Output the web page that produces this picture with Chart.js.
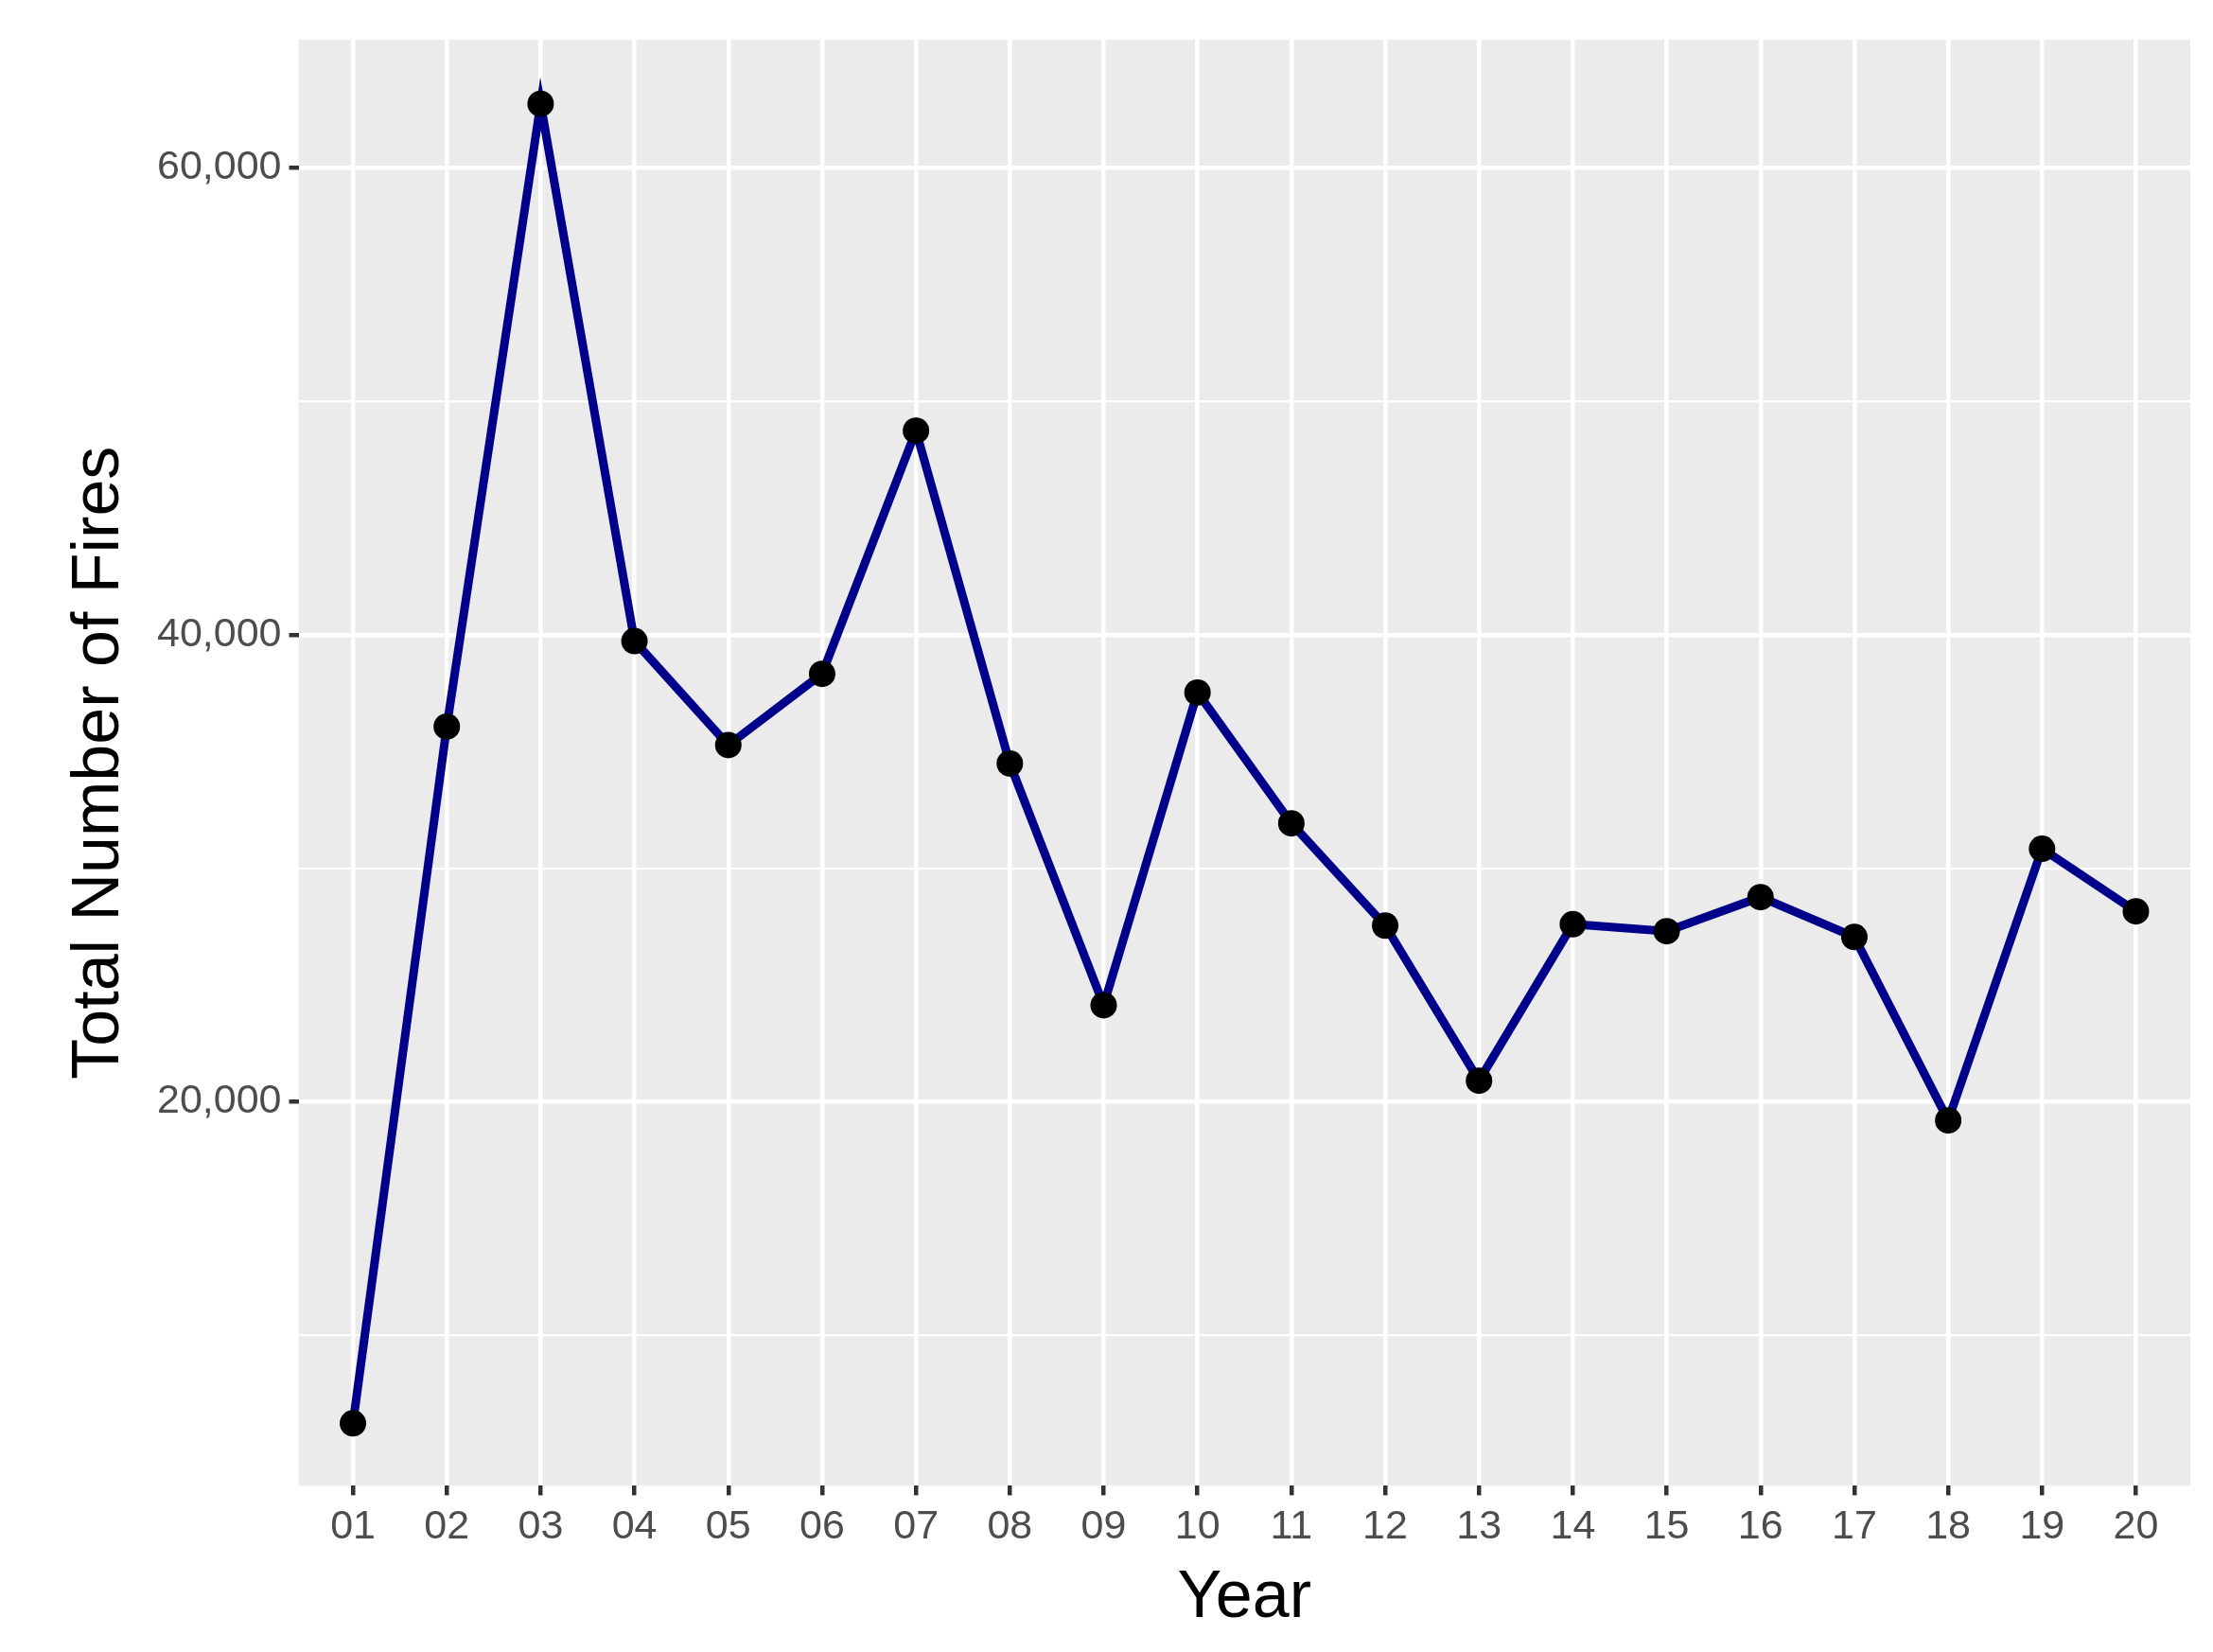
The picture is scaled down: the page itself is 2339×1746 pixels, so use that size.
<!DOCTYPE html>
<html><head><meta charset="utf-8">
<script src="https://cdn.jsdelivr.net/npm/chart.js@4/dist/chart.umd.min.js"></script>
<style>html,body{margin:0;padding:0;background:#fff}#w{width:2339px;height:1746px}</style>
</head><body><div id="w"><canvas id="c"></canvas></div>
<script>
const years = ["01","02","03","04","05","06","07","08","09","10","11","12","13","14","15","16","17","18","19","20"];
const fires = [6240,36070,62740,39730,35280,38330,48740,34490,24140,37530,31930,27550,20910,27610,27310,28770,27060,19210,30840,28160];
const yTicks = [10000,20000,30000,40000,50000,60000];
const yLabels = [20000,40000,60000];

const bg = {id:'bg',beforeDraw(ch){const a=ch.chartArea,x=ch.ctx;x.save();x.fillStyle='#ebebeb';x.fillRect(a.left,a.top,a.right-a.left,a.bottom-a.top);x.restore();}};
new Chart(document.getElementById('c'),{
 type:'line',
 data:{datasets:[{data:fires.map((v,i)=>({x:i,y:v})),borderColor:'#00008B',borderWidth:9,pointRadius:14,pointBackgroundColor:'#000',pointBorderColor:'#000',pointBorderWidth:0,tension:0}]},
 options:{responsive:true,maintainAspectRatio:false,animation:false,
  layout:{padding:{top:42,right:24,left:60,bottom:14}},
  plugins:{legend:{display:false},tooltip:{enabled:false}},
  scales:{
   x:{type:'linear',min:-0.58,max:19.58,
     afterBuildTicks(s){s.ticks=years.map((y,i)=>({value:i}));},
     ticks:{callback:(v)=>years[v],color:'#4d4d4d',font:{family:'Liberation Sans',size:43},maxRotation:0,autoSkip:false,padding:8},
     grid:{color:'#ffffff',lineWidth:4.5,tickColor:'#333',tickLength:10},border:{display:false},
     title:{display:true,text:'Year',color:'#000',font:{family:'Liberation Sans',size:70},padding:{top:0,bottom:0}}},
   y:{min:3562,max:65480,
     afterBuildTicks(s){s.ticks=yTicks.map(v=>({value:v}));},
     ticks:{callback:(v)=>yLabels.includes(v)?v.toLocaleString('en-US'):'',color:'#4d4d4d',font:{family:'Liberation Sans',size:43},padding:8},
     grid:{color:'#ffffff',lineWidth:(c)=>yLabels.includes(c.tick&&c.tick.value)?4.5:2.2,tickColor:(c)=>yLabels.includes(c.tick&&c.tick.value)?'#333':'rgba(0,0,0,0)',tickLength:10},border:{display:false},
     title:{display:true,text:'Total Number of Fires',color:'#000',font:{family:'Liberation Sans',size:70},padding:{bottom:10}}}
  }},
 plugins:[bg]
});
</script></body></html>
